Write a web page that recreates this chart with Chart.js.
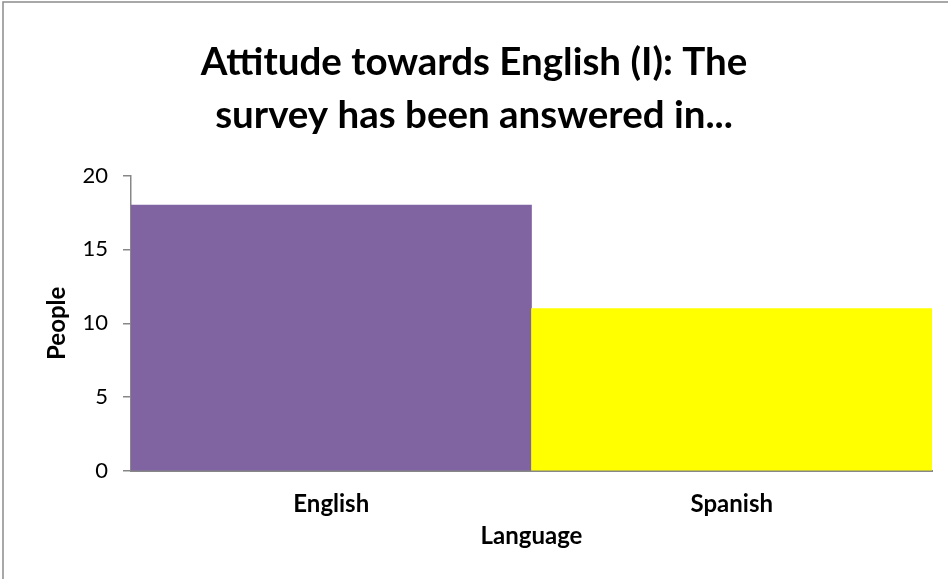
<!DOCTYPE html>
<html>
<head>
<meta charset="utf-8">
<script src="https://cdn.jsdelivr.net/npm/chart.js@4"></script>
<style>
  html, body { margin: 0; padding: 0; background: #fff; }
  #wrap { width: 948px; height: 579px; position: relative; }
</style>
</head>
<body>
<div id="wrap"><canvas id="chart"></canvas></div>
<script>
// datos del gráfico
const categorias = ['English', 'Spanish'];
const personas = [18, 11];
const colores = ['#8064A2', '#FFFF00'];
const yTicks = [0, 5, 10, 15, 20];

const FONT = 'Lato, Carlito, Calibri, "Open Sans", sans-serif';
const axisColor = '#878787';

// marco exterior (solo se ven los bordes izquierdo y superior)
const marco = {
  id: 'marco',
  afterDraw(chart) {
    const c = chart.ctx;
    c.save();
    c.strokeStyle = '#8c8c8c';
    c.lineWidth = 1.5;
    c.strokeRect(3, 2, 1200, 1200);
    c.restore();
  }
};

new Chart(document.getElementById('chart'), {
  type: 'bar',
  data: {
    labels: categorias,
    datasets: [{
      data: personas,
      backgroundColor: colores,
      borderWidth: 0,
      barPercentage: 1,
      categoryPercentage: 1
    }]
  },
  options: {
    responsive: true,
    maintainAspectRatio: false,
    animation: false,
    layout: { padding: { left: 16, right: 16, top: 0, bottom: 0 } },
    plugins: {
      legend: { display: false },
      tooltip: { enabled: false },
      title: {
        display: true,
        text: ['Attitude towards English (I): The', 'survey has been answered in...'],
        color: '#000',
        font: { family: FONT, size: 38.5, weight: 'bold', lineHeight: 1.377 },
        padding: { top: 36.5, bottom: 33 }
      }
    },
    scales: {
      x: {
        grid: { display: false, drawTicks: false },
        border: { display: true, color: axisColor, width: 2 },
        ticks: { color: '#000', padding: 18.5, font: { family: FONT, size: 24, weight: 'bold' } },
        title: {
          display: true, text: 'Language', color: '#000',
          font: { family: FONT, size: 24, weight: 'bold' },
          padding: { top: 0, bottom: 28.5 }
        },
        afterFit(scale) { scale.height = 108; }
      },
      y: {
        min: 0,
        max: 20,
        afterBuildTicks(scale) { scale.ticks = yTicks.map(v => ({ value: v })); },
        grid: { drawOnChartArea: false, drawTicks: true, tickLength: 8, color: axisColor, lineWidth: 1.5 },
        border: { display: true, color: axisColor, width: 1.5 },
        ticks: { color: '#000', padding: 15, font: { family: FONT, size: 22 } },
        title: {
          display: true, text: 'People', color: '#000',
          font: { family: FONT, size: 24, weight: 'bold' },
          padding: { top: 27, bottom: 0 }
        },
        afterFit(scale) { scale.width = 115; }
      }
    }
  },
  plugins: [marco]
});
</script>
</body>
</html>
